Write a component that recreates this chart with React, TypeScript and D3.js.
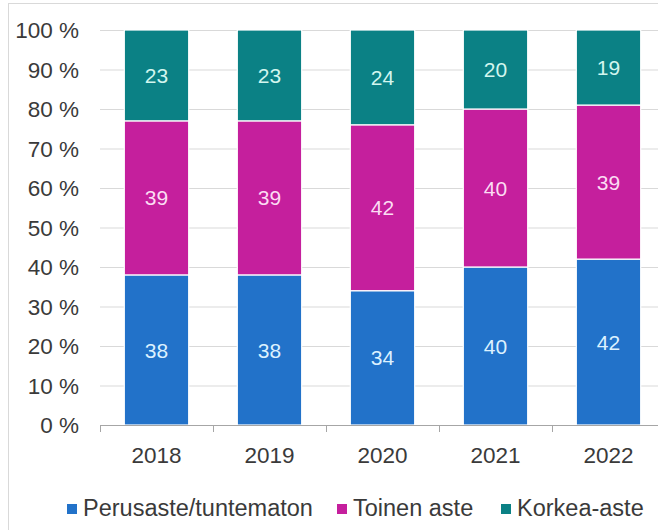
import React, { useEffect, useRef } from 'react'
import * as d3 from 'd3'

// Vuodet ja osuudet (%)
const years = ['2018', '2019', '2020', '2021', '2022']
const perusaste = [38, 38, 34, 40, 42]
const toinenAste = [39, 39, 42, 40, 39]
const korkeaAste = [23, 23, 24, 20, 19]
const seriesNames = ['Perusaste/tuntematon', 'Toinen aste', 'Korkea-aste']
const yTicks = [0, 10, 20, 30, 40, 50, 60, 70, 80, 90, 100]

const App = () => {
  const ref = useRef<SVGSVGElement | null>(null)

  useEffect(() => {
    const width = 658
    const height = 530
    const colors = ['#2272c9', '#c51f9d', '#0b8185']
    const labelColors = ['#dcf1ff', '#fbdcf3', '#d3f6ef']
    const textColor = '#3a3a3a'
    const font = 'Liberation Sans, Arial, sans-serif'

    const svg = d3.select(ref.current)
    svg.selectAll('*').remove()

    // reunus
    svg
      .append('rect')
      .attr('x', 8.5)
      .attr('y', 3.5)
      .attr('width', width)
      .attr('height', height)
      .attr('fill', 'white')
      .attr('stroke', '#d9d9d9')

    const rows = years.map((y, i) => ({
      year: y,
      s0: perusaste[i],
      s1: toinenAste[i],
      s2: korkeaAste[i],
    }))

    const x = d3.scaleBand().domain(years).range([100, 665]).paddingInner(0.43).paddingOuter(0.215)
    const y = d3.scaleLinear().domain([0, 100]).range([425, 30])

    // ruudukko
    svg
      .append('g')
      .selectAll('line')
      .data(yTicks.filter((t) => t > 0))
      .enter()
      .append('line')
      .attr('x1', 100)
      .attr('x2', width)
      .attr('y1', (d) => y(d) + 0.5)
      .attr('y2', (d) => y(d) + 0.5)
      .attr('stroke', '#d9d9d9')

    // y-akselin tekstit
    svg
      .append('g')
      .selectAll('text')
      .data(yTicks)
      .enter()
      .append('text')
      .attr('x', 79)
      .attr('y', (d) => y(d))
      .attr('dy', '0.36em')
      .attr('text-anchor', 'end')
      .attr('font-family', font)
      .attr('font-size', 22.5)
      .attr('fill', textColor)
      .text((d) => `${d} %`)

    const stack = d3.stack<any>().keys(['s0', 's1', 's2'])
    const layers = stack(rows)

    const g = svg.append('g')
    layers.forEach((layer, li) => {
      g.append('g')
        .selectAll('rect')
        .data(layer)
        .enter()
        .append('rect')
        .attr('x', (d: any) => x(d.data.year)!)
        .attr('width', x.bandwidth())
        .attr('y', (d) => y(d[1]))
        .attr('height', (d) => y(d[0]) - y(d[1]))
        .attr('fill', colors[li])
        .attr('stroke', '#ffffff')
        .attr('stroke-width', 1.2)

      g.append('g')
        .selectAll('text')
        .data(layer)
        .enter()
        .append('text')
        .attr('x', (d: any) => x(d.data.year)! + x.bandwidth() / 2)
        .attr('y', (d) => y((d[0] + d[1]) / 2))
        .attr('dy', '0.36em')
        .attr('text-anchor', 'middle')
        .attr('font-family', font)
        .attr('font-size', 21)
        .attr('fill', labelColors[li])
        .text((d) => d[1] - d[0])
    })

    // x-akseli
    const axis = svg.append('g')
    axis
      .append('line')
      .attr('x1', 100)
      .attr('x2', width)
      .attr('y1', 425.5)
      .attr('y2', 425.5)
      .attr('stroke', '#a6a6a6')
    const edge = (x.step() - x.bandwidth()) / 2
    axis
      .selectAll('line.tick')
      .data(years)
      .enter()
      .append('line')
      .attr('class', 'tick')
      .attr('x1', (d) => Math.round(x(d)! - edge) + 0.5)
      .attr('x2', (d) => Math.round(x(d)! - edge) + 0.5)
      .attr('y1', 425)
      .attr('y2', 432)
      .attr('stroke', '#a6a6a6')
    axis
      .selectAll('text')
      .data(years)
      .enter()
      .append('text')
      .attr('x', (d) => x(d)! + x.bandwidth() / 2)
      .attr('y', 463)
      .attr('text-anchor', 'middle')
      .attr('font-family', font)
      .attr('font-size', 22.5)
      .attr('fill', textColor)
      .text((d) => d)

    // selite
    const legendX = [67, 337, 501]
    const legend = svg
      .append('g')
      .selectAll('g')
      .data(seriesNames)
      .enter()
      .append('g')
      .attr('transform', (d, i) => `translate(${legendX[i]},0)`)
    legend
      .append('rect')
      .attr('x', 0)
      .attr('y', 504)
      .attr('width', 10)
      .attr('height', 10)
      .attr('fill', (d, i) => colors[i])
    legend
      .append('text')
      .attr('x', 16)
      .attr('y', 516)
      .attr('font-family', font)
      .attr('font-size', 23.5)
      .attr('fill', textColor)
      .text((d) => d)
  }, [])

  return (
    <div style={{ position: 'absolute', left: 0, top: 0 }}>
      <svg ref={ref} width={658} height={530} style={{ display: 'block', background: 'white' }} />
    </div>
  )
}

export default App
